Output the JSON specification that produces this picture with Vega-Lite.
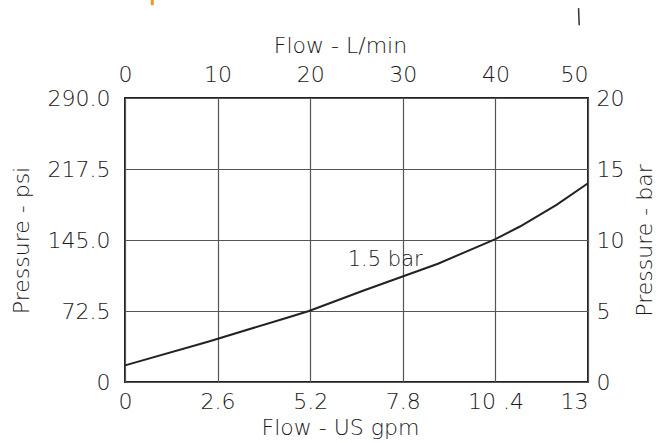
{
  "$schema": "https://vega.github.io/schema/vega-lite/v6.json",
  "width": 463,
  "height": 284,
  "autosize": {"type": "none"},
  "padding": {"left": 125, "top": 98, "right": 70, "bottom": 61},
  "background": "white",
  "config": {
    "view": {"stroke": "#222222", "strokeWidth": 2},
    "font": "DejaVu Sans",
    "axis": {
      "domain": false,
      "ticks": false,
      "labelFont": "DejaVu Sans",
      "labelFontWeight": 200,
      "labelFontSize": 22,
      "labelColor": "#1a1a1a",
      "titleFont": "DejaVu Sans",
      "titleFontWeight": 200,
      "titleFontSize": 22,
      "titleColor": "#1a1a1a",
      "gridColor": "#555555",
      "gridWidth": 1.2,
      "gridOpacity": 1
    }
  },
  "datasets": {
    "curve": [
      {"lmin": 0, "bar": 1.17},
      {"lmin": 8.96, "bar": 2.84},
      {"lmin": 17.5, "bar": 4.53},
      {"lmin": 19.87, "bar": 5.0},
      {"lmin": 25.7, "bar": 6.43},
      {"lmin": 33.8, "bar": 8.33},
      {"lmin": 38.3, "bar": 9.59},
      {"lmin": 40.0, "bar": 10.06},
      {"lmin": 42.65, "bar": 10.95},
      {"lmin": 46.6, "bar": 12.47},
      {"lmin": 50.0, "bar": 14.0}
    ],
    "extent": [
      {"gpm": 0, "psi": 0},
      {"gpm": 13, "psi": 290}
    ],
    "annot": [
      {"lmin": 28.1, "bar": 8.6, "label": "1.5 bar"}
    ],
    "fragments": [
      {"lmin": 2.95, "bar": 27.6, "lmin2": 2.95, "bar2": 26.54, "kind": "orange"},
      {"lmin": 48.98, "bar": 26.33, "lmin2": 49.05, "bar2": 25.13, "kind": "dark"}
    ]
  },
  "layer": [
    {
      "data": {"name": "extent"},
      "mark": {"type": "point", "opacity": 0},
      "encoding": {
        "x": {
          "field": "gpm", "type": "quantitative",
          "scale": {"domain": [0, 13], "nice": false, "zero": false},
          "axis": {
            "orient": "bottom",
            "title": "Flow - US gpm",
            "values": [0, 2.6, 5.2, 7.8, 10.4, 13],
            "grid": true,
            "labelPadding": 9,
            "titlePadding": 5,
            "titleX": 215,
            "labelAlign": {"expr": "datum.value == 13 ? 'right' : 'center'"},
            "labelExpr": "datum.value == 0 ? '0' : datum.value == 13 ? '13' : datum.value == 10.4 ? '10 .4' : format(datum.value, '.1f')"
          }
        },
        "y": {
          "field": "psi", "type": "quantitative",
          "scale": {"domain": [0, 290], "nice": false, "zero": false},
          "axis": {
            "orient": "left",
            "title": "Pressure - psi",
            "values": [0, 72.5, 145, 217.5, 290],
            "grid": true,
            "labelPadding": 15,
            "titlePadding": 14,
            "labelExpr": "datum.value == 0 ? '0' : format(datum.value, '.1f')"
          }
        }
      }
    },
    {
      "encoding": {
        "x": {
          "field": "lmin", "type": "quantitative",
          "scale": {"domain": [0, 50], "nice": false, "zero": false},
          "axis": {
            "orient": "top",
            "title": "Flow - L/min",
            "values": [0, 10, 20, 30, 40, 50],
            "grid": false,
            "labelPadding": 12,
            "titlePadding": 6,
            "titleX": 215,
            "labelAlign": {"expr": "datum.value == 50 ? 'right' : 'center'"}
          }
        },
        "y": {
          "field": "bar", "type": "quantitative",
          "scale": {"domain": [0, 20], "nice": false, "zero": false},
          "axis": {
            "orient": "right",
            "title": "Pressure - bar",
            "titleAngle": 270,
            "values": [0, 5, 10, 15, 20],
            "grid": false,
            "labelPadding": 8,
            "titlePadding": 33
          }
        }
      },
      "layer": [
        {
          "data": {"name": "curve"},
          "mark": {"type": "line", "color": "#222222", "strokeWidth": 2}
        },
        {
          "data": {"name": "annot"},
          "mark": {"type": "text", "fontSize": 21, "font": "DejaVu Sans", "fontWeight": 200, "color": "#1a1a1a", "align": "center", "baseline": "middle"},
          "encoding": {"text": {"field": "label"}}
        },
        {
          "data": {"name": "fragments"},
          "mark": {"type": "rule", "clip": false},
          "encoding": {
            "x2": {"field": "lmin2"},
            "y2": {"field": "bar2"},
            "color": {"field": "kind", "type": "nominal", "scale": {"domain": ["orange", "dark"], "range": ["#f7941d", "#333333"]}, "legend": null},
            "strokeWidth": {"field": "kind", "type": "nominal", "scale": {"domain": ["orange", "dark"], "range": [3, 1.5]}, "legend": null}
          }
        }
      ]
    }
  ],
  "resolve": {"scale": {"x": "independent", "y": "independent"}}
}
